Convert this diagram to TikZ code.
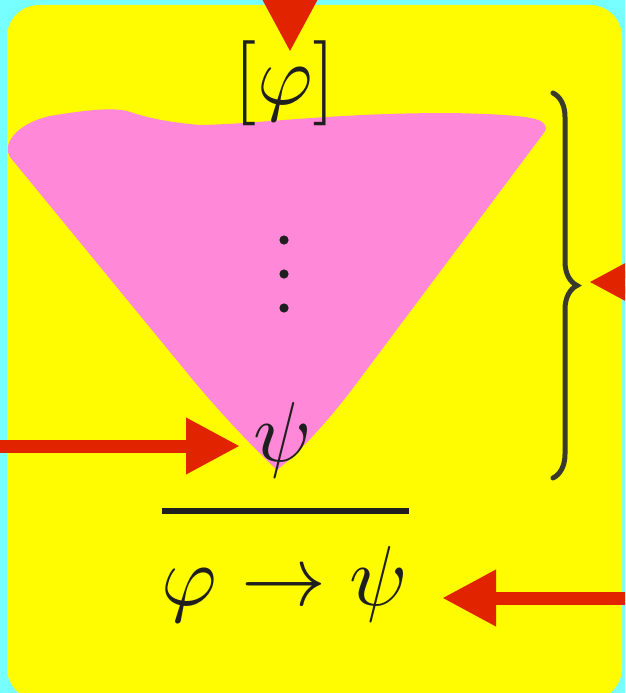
\documentclass[tikz,border=0pt]{standalone}
\usepackage{xcolor}
\usepackage{tikz}
\usetikzlibrary{arrows.meta,decorations.pathreplacing}
\definecolor{skycyan}{RGB}{119,255,255}
\definecolor{boxyellow}{RGB}{255,251,0}
\definecolor{conepink}{RGB}{255,136,216}
\definecolor{arrowred}{RGB}{225,35,0}
\definecolor{bracegray}{RGB}{58,58,44}
\colorlet{inkblack}{black!88}
\tikzset{
  redarrow/.style={draw=arrowred,line width=13pt,
    -{Triangle[length=54pt,width=53pt,fill=arrowred]}},
  bigmath/.style={inner sep=0pt,anchor=base,text=inkblack,scale=8.5},
}

\begin{document}
\begin{tikzpicture}[x=1pt,y=-1pt,>=Latex]
\useasboundingbox (0,0) rectangle (625,693);
\clip (0,0) rectangle (625,693);
\fill[skycyan] (0,0) rectangle (625,693);
\fill[boxyellow,rounded corners=32pt] (7,5) rectangle (622,700);
% the cone of the derivation
\fill[conepink] (10,157) .. controls (2,145) and (15,124) .. (50,116)
  .. controls (80,111) and (110,107) .. (127,111)
  .. controls (140,115) and (155,121) .. (200,125)
  .. controls (260,124) and (330,113) .. (450,113)
  .. controls (500,114) and (535,116) .. (542,122)
  .. controls (548,127) and (546,130) .. (543,134)
  -- (359,380) .. controls (325,426) and (295,456) .. (277,470)
  .. controls (262,456) and (228,422) .. (193,380) -- cycle;
\foreach \dy in {240,274,308} \fill[inkblack] (284,\dy) circle (4.6);
\node[bigmath] (hyp) at (285,104) {$[\varphi]$};
\node[bigmath] (concl) at (283,461) {$\psi$};
\draw[inkblack,line width=6pt] (162,511) -- (409,511);
\node[bigmath] (res) at (285,605) {$\varphi\rightarrow\psi$};
\draw[bracegray,line width=5pt,line cap=round,decorate,
  decoration={brace,amplitude=24pt}] (553,93) -- (553,478);
% arrows
\coordinate (topin) at (290,-60);  \coordinate (toptip) at (290,52);
\coordinate (leftin) at (-40,446); \coordinate (lefttip) at (240,446);
\coordinate (bracein) at (720,282); \coordinate (bracetip) at (589,282);
\coordinate (resin) at (700,598);  \coordinate (restip) at (442,598);
\draw[redarrow] (topin) -- (toptip);
\draw[redarrow] (leftin) -- (lefttip);
\draw[redarrow] (bracein) -- (bracetip);
\draw[redarrow] (resin) -- (restip);
\end{tikzpicture}
\end{document}
